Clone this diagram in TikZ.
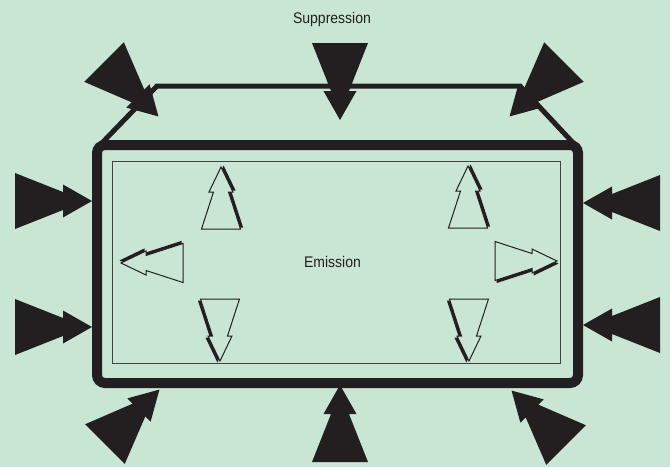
\documentclass[tikz,border=0pt]{standalone}
\usepackage{fontspec}
\setmainfont{Liberation Sans}[FakeStretch=0.91]
\definecolor{bg}{RGB}{201,229,211}
\definecolor{ink}{RGB}{35,31,32}

\begin{document}
\begin{tikzpicture}[x=1pt,y=1pt
	,word/.style={inner sep=0pt, anchor=base, font=\fontsize{15.4}{18}\selectfont, text=ink}
	,zap/.pic={
		\fill[ink] (0,28) -- (48,9) -- (48,16.5) -- (77,0) -- (48,-16.5) -- (48,-9) -- (0,-28) -- cycle;
	}
	,glow/.pic={
		\fill[ink, shift={(1.5,-2.6)}] (0,19.5) -- (37,7.5) -- (37,12) -- (62,0) -- (37,-12) -- (37,-7.5) -- (0,-19.5) -- cycle;
		\filldraw[fill=bg, draw=ink, line width=1] (0,19.5) -- (37,7.5) -- (37,12) -- (62,0) -- (37,-12) -- (37,-7.5) -- (0,-19.5) -- cycle;
	}]

\fill[bg] (0,0) rectangle (670,-467);
\useasboundingbox (0,0) rectangle (670,-467);

% roof
\coordinate (eaveL) at (99,-146);
\coordinate (roofL) at (157,-86);
\coordinate (roofR) at (520,-86);
\coordinate (eaveR) at (576,-146);
\draw[ink, line width=5] (eaveL) -- (roofL) -- (roofR) -- (eaveR);

% casing and screen
\node[draw=ink, line width=10, rounded corners=8, inner sep=0pt, outer sep=0pt, minimum width=481, minimum height=238] (casing) at (337.5,-264) {};
\node[draw=ink!85, line width=1, inner sep=0pt, minimum width=448, minimum height=202] (screen) at (336,-262) {};

\node[word] (supp) at (332,-23) {Suppression};
\node[word] (emis) at (332.5,-267) {Emission};

% incoming
\foreach \x\y\a in {
	340/43/-90
	,104/62/-45
	,564/62/-135
	,15/201/0
	,15/327/0
	,660/203/180
	,660/325/180
	,340/462/90
	,105/444/45
	,566/445/135
}{
	\pic[rotate=\a] at (\x,-\y) {zap};
}

% outgoing
\foreach \x\y\a in {
	221/229/90
	,468/228/90
	,220/299/-90
	,469/299/-90
	,183/263/180
	,495/261/0
}{
	\pic[rotate=\a] at (\x,-\y) {glow};
}

\end{tikzpicture}
\end{document}
